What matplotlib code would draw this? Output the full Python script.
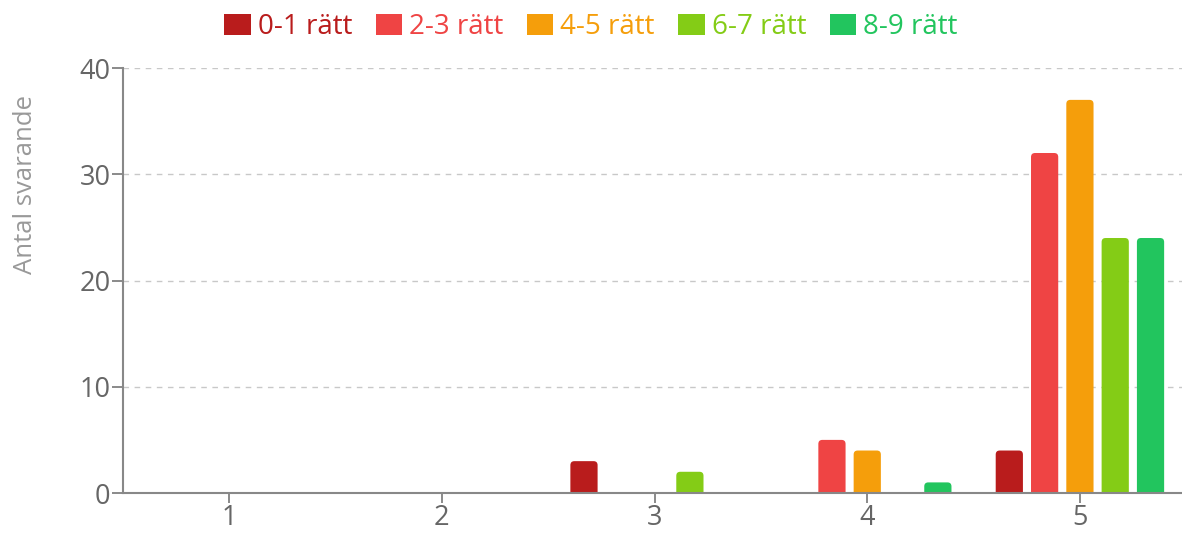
import numpy as np
import matplotlib
matplotlib.use('Agg')
import matplotlib.pyplot as plt
from matplotlib.patches import FancyBboxPatch, Patch

# Data
categories = [1, 2, 3, 4, 5]
series_names = ['0-1 rätt', '2-3 rätt', '4-5 rätt', '6-7 rätt', '8-9 rätt']
values_01 = [0, 0, 3, 0, 4]
values_23 = [0, 0, 0, 5, 32]
values_45 = [0, 0, 0, 4, 37]
values_67 = [0, 0, 2, 0, 24]
values_89 = [0, 0, 0, 1, 24]
colors = ['#b91c1c', '#ef4444', '#f59e0b', '#84cc16', '#22c55e']
y_ticks = [0, 10, 20, 30, 40]

plt.rcParams['font.family'] = ['Open Sans', 'DejaVu Sans']

fig = plt.figure(figsize=(11.82, 5.38), dpi=100)
ax = fig.add_axes([0.104, 0.0836, 0.896, 0.79])

all_values = [values_01, values_23, values_45, values_67, values_89]
x = np.array(categories, dtype=float)
step = 0.166
width = 0.128

# px per data unit, used to keep the corner rounding circular
x_px = 0.896 * 1182 / 4.98
y_px = 0.79 * 538 / 40
radius = 4.0 / x_px

for i, (vals, col) in enumerate(zip(all_values, colors)):
    bars = ax.bar(x + (i - 2) * step, vals, width, color=col)
    for rect, v in zip(bars, vals):
        rect.set_visible(False)
        if v <= 0:
            continue
        rx, rw = rect.get_x(), rect.get_width()
        p = FancyBboxPatch((rx + radius, -1), rw - 2 * radius, v + 1 - radius * x_px / y_px,
                           boxstyle=f"round,pad={radius},rounding_size={radius}",
                           mutation_aspect=x_px / y_px,
                           facecolor=col, edgecolor='none', zorder=2)
        ax.add_patch(p)

ax.set_xlim(0.5, 5.48)
ax.set_ylim(0, 40)
ax.set_xticks(categories)
ax.set_yticks(y_ticks)
ax.tick_params(axis='both', colors='#777777', labelcolor='#666666', labelsize=19.5,
               width=1.2)
ax.tick_params(axis='y', length=8, pad=1)
ax.tick_params(axis='x', length=7, pad=1)
ax.grid(axis='y', linestyle=(0, (4, 4)), color='#c8c8c8', linewidth=1)
ax.set_axisbelow(True)
for s in ['top', 'right']:
    ax.spines[s].set_visible(False)
for s in ['left', 'bottom']:
    ax.spines[s].set_color('#888888')
    ax.spines[s].set_linewidth(1.5)
    ax.spines[s].set_zorder(3)

ax.set_ylabel('Antal svarande', color='#999999', fontsize=18.5)
ax.yaxis.set_label_coords(-0.08, 0.725)

handles = [Patch(facecolor=c, edgecolor='none') for c in colors]
leg = fig.legend(handles, series_names, loc='center', bbox_to_anchor=(0.5, 0.95),
                 ncol=5, frameon=False, fontsize=20, handlelength=0.95, handleheight=0.8,
                 handletextpad=0.25, columnspacing=0.85)
for txt, c in zip(leg.get_texts(), colors):
    txt.set_color(c)

fig.savefig('out.png', dpi=100)
